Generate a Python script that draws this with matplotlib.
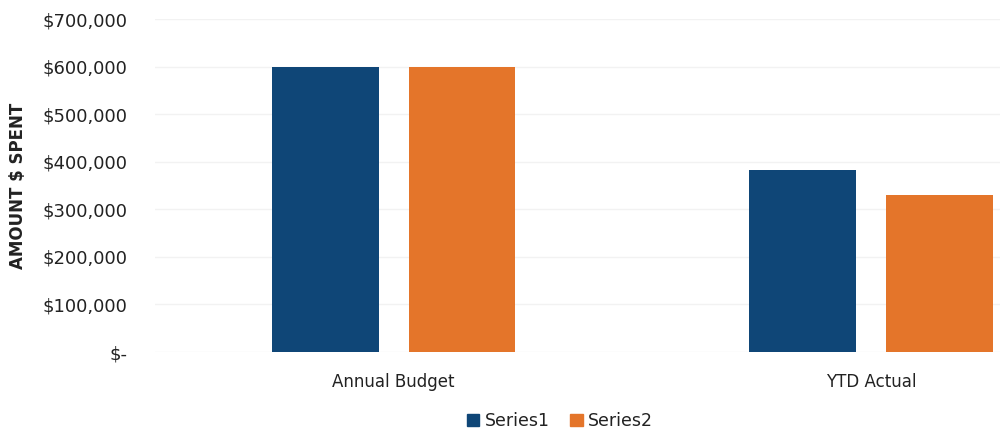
import matplotlib.pyplot as plt
from matplotlib.patches import Patch
from matplotlib.ticker import FuncFormatter

categories = ["Annual Budget", "YTD Actual"]
series1 = [600000, 382000]
series2 = [600000, 331000]
series_names = ["Series1", "Series2"]
colors = ["#0F4677", "#E4752A"]

plt.rcParams['font.family'] = ['DejaVu Sans']

fig = plt.figure(figsize=(10, 4.33), dpi=100)
ax = fig.add_axes([0.155, 0.187, 0.845, 0.769])

x = range(len(categories))
w = 0.224
off = 0.143
ax.bar([i - off for i in x], series1, width=w, color=colors[0], zorder=3)
ax.bar([i + off for i in x], series2, width=w, color=colors[1], zorder=3)

ax.set_xlim(-0.5, 1.27)
ax.set_ylim(0, 700000)
ax.set_yticks(range(0, 700001, 100000))
ax.yaxis.set_major_formatter(FuncFormatter(lambda v, p: "$-" if v == 0 else f"${v:,.0f}"))
ax.set_xticks(list(x))
ax.set_xticklabels(categories)
ax.tick_params(axis='y', length=0, pad=20, labelsize=13, labelcolor="#222222")
ax.tick_params(axis='x', length=0, pad=15, labelsize=12, labelcolor="#222222")
ax.grid(axis='y', color="#f2f2f2", linewidth=1, zorder=0)
for s in ax.spines.values():
    s.set_visible(False)

ax.set_ylabel("AMOUNT $ SPENT", fontsize=12, fontweight='bold', color="#222222")
ax.yaxis.set_label_coords(-0.152, 0.5)

handles = [Patch(color=c, label=n) for c, n in zip(colors, series_names)]
fig.legend(handles=handles, loc='center', bbox_to_anchor=(0.56, 0.027), ncol=2,
           frameon=False, fontsize=12.5, handlelength=0.7, handleheight=0.7,
           handletextpad=0.3, columnspacing=1.2, labelcolor="#222222")

fig.savefig("out.png", dpi=100)
